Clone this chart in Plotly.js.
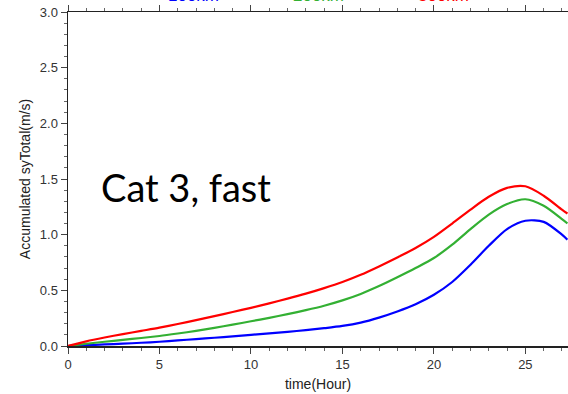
<!DOCTYPE html>
<html>
<head>
<meta charset="utf-8">
<script src="https://cdn.plot.ly/plotly-3.0.1.min.js"></script>
<style>html,body{margin:0;padding:0;background:#fff;overflow:hidden}</style>
</head>
<body>
<div id="chart" style="width:568px;height:394px"></div>
<script>
const timeHours = [0, 1, 2, 3, 4, 5, 6, 7, 8, 9, 10, 11, 12, 13, 14, 15, 16, 17, 18, 19, 20, 21, 22, 23, 24, 25, 26, 27, 27.3];
const series100 = [0, 0.007, 0.014, 0.021, 0.029, 0.038, 0.05, 0.062, 0.074, 0.087, 0.10, 0.113, 0.127, 0.143, 0.16, 0.18, 0.21, 0.255, 0.31, 0.375, 0.46, 0.575, 0.73, 0.90, 1.05, 1.125, 1.115, 1.00, 0.955];
const series200 = [0, 0.02, 0.038, 0.055, 0.072, 0.09, 0.112, 0.136, 0.163, 0.192, 0.222, 0.253, 0.286, 0.322, 0.362, 0.41, 0.468, 0.538, 0.617, 0.70, 0.79, 0.91, 1.05, 1.18, 1.275, 1.318, 1.26, 1.14, 1.10];
const series300 = [0, 0.042, 0.076, 0.107, 0.136, 0.165, 0.198, 0.232, 0.268, 0.305, 0.343, 0.383, 0.425, 0.47, 0.52, 0.575, 0.64, 0.715, 0.795, 0.88, 0.98, 1.10, 1.225, 1.34, 1.42, 1.435, 1.35, 1.225, 1.19];
const seriesNames = ["100km", "200km", "300km"];
const seriesColors = ["#0000ff", "#33b033", "#ff0000"];
const xTickVals = [0, 5, 10, 15, 20, 25];
const yTickVals = [0, 0.5, 1.0, 1.5, 2.0, 2.5, 3.0];
const yTickText = ["0.0", "0.5", "1.0", "1.5", "2.0", "2.5", "3.0"];

const allSeries = [series100, series200, series300];
const traces = allSeries.map((ys, i) => ({
  x: timeHours, y: ys, type: "scatter", mode: "lines",
  name: seriesNames[i],
  line: {color: seriesColors[i], width: 2.2, shape: "spline", smoothing: 0.8},
  showlegend: false
}));

const sans = "Liberation Sans, Arial, sans-serif";
const tickFont = {family: sans, size: 13, color: "#333"};
const layout = {
  width: 568, height: 394,
  margin: {l: 68, r: 0, t: 12, b: 48},
  paper_bgcolor: "#fff", plot_bgcolor: "#fff",
  showlegend: false,
  xaxis: {
    range: [0, 27.33], showgrid: false, zeroline: false,
    showline: true, linecolor: "#222", linewidth: 1.5, mirror: "allticks",
    ticks: "outside", ticklen: 6, tickwidth: 1, tickcolor: "#444",
    tickvals: xTickVals, tickfont: tickFont,
    minor: {dtick: 1, ticks: "outside", ticklen: 3, tickcolor: "#666", showgrid: false},
    title: {text: "time(Hour)", font: {family: sans, size: 14, color: "#222"}, standoff: 8}
  },
  yaxis: {
    range: [0, 3.0], showgrid: false, zeroline: false,
    showline: true, linecolor: "#222", linewidth: 1.5,
    ticks: "outside", ticklen: 6, tickwidth: 1, tickcolor: "#444",
    tickvals: yTickVals, ticktext: yTickText, tickfont: tickFont,
    minor: {dtick: 0.1, ticks: "outside", ticklen: 3, tickcolor: "#666", showgrid: false},
    title: {text: "Accumulated syTotal(m/s)", font: {family: sans, size: 14, color: "#222"}, standoff: 6}
  },
  annotations: [
    {text: "Cat 3, fast", xref: "paper", yref: "paper", x: 0.062, y: 0.475, xanchor: "left", yanchor: "middle",
     showarrow: false, font: {family: "Lato, Open Sans, sans-serif", size: 38, color: "#000"}}
  ].concat(seriesNames.map((n, i) => ({
     text: n, xref: "paper", yref: "paper", x: 0.25 * (i + 1), y: 1, xanchor: "center", yanchor: "bottom",
     yshift: 5, showarrow: false, font: {family: sans, size: 17, color: seriesColors[i]}
  })))
};
Plotly.newPlot("chart", traces, layout, {displayModeBar: false, staticPlot: true});
</script>
</body>
</html>
